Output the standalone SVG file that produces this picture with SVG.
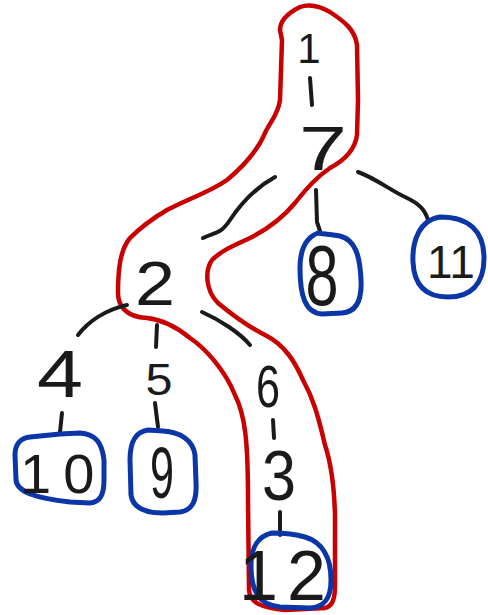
<svg xmlns="http://www.w3.org/2000/svg" width="488" height="615" viewBox="0 0 488 615">
<style>
.t{font-family:"Liberation Sans",Arial,sans-serif;fill:#1a1a1a;text-anchor:middle}
.c{fill:none;stroke:#1a1a1a;stroke-width:4;stroke-linecap:round;stroke-linejoin:round}
.b{fill:none;stroke:#0a36a8;stroke-width:5;stroke-linejoin:round}
.r{fill:none;stroke:#c80000;stroke-width:4.5;stroke-linejoin:round}
</style>
<rect width="488" height="615" fill="#fff"/>
<path class="r" d="M300,7 C290,12 280,20 280,30 L282,40 L280,100 C278,115 270,122 265,133 C258,150 245,165 227,180 C210,192 190,198 167,210 C150,220 138,230 130,238 C120,250 118,270 118,293 C118,305 125,317 147,318 C165,320 178,328 190,338 C205,348 225,370 235,395 C245,415 248,440 248,500 L249,590 C250,603 262,608 285,610 L325,608 C333,606 335,598 335,585 L335,515 C334,480 330,460 325,445 C318,415 313,398 303,380 C295,362 285,345 265,335 C245,325 230,313 218,303 C205,290 205,270 212,260 C222,250 235,245 250,238 C270,228 285,215 295,203 C305,190 315,178 330,168 C345,160 355,150 357,135 L358,100 L357,45 C355,30 345,22 330,12 C318,5 308,4 300,7 Z"/>
<g id="connectors">
<path class="c" d="M310,78 L312,105"/>
<path class="c" d="M275,177 C255,188 240,205 230,220 S215,232 203,238"/>
<path class="c" d="M316,190 L317,222 L320,231"/>
<path class="c" d="M358,172 C375,178 390,190 405,197 S425,210 428,220"/>
<path class="c" d="M127,305 C105,310 88,322 78,335"/>
<path class="c" d="M157,325 L156,347"/>
<path class="c" d="M202,312 C220,320 240,333 250,345"/>
<path class="c" d="M62,413 L60,432"/>
<path class="c" d="M155,403 L158,427"/>
<path class="c" d="M273,420 L274,438"/>
<path class="c" d="M280,512 L280,535"/>
</g>
<g id="n1"><text class="t" x="309" y="63" font-size="42">1</text></g>
<g id="n7"><text class="t" x="323" y="170" font-size="63" textLength="48" lengthAdjust="spacingAndGlyphs">7</text></g>
<g id="n2"><text class="t" x="155" y="305" font-size="63" textLength="40" lengthAdjust="spacingAndGlyphs">2</text></g>
<g id="n8"><path class="b" d="M318,233 C305,238 300,250 300,268 C300,295 305,313 322,314 L342,313 C356,312 362,300 361,280 C360,255 355,240 340,236 C330,234 322,234 318,233 Z"/><text class="t" x="322" y="305" font-size="85" textLength="33" lengthAdjust="spacingAndGlyphs">8</text></g>
<g id="n11"><path class="b" d="M440,217 C420,220 412,240 413,262 C414,285 425,297 448,297 C470,297 484,285 484,258 C484,232 470,217 440,217 Z"/><text class="t" x="451" y="278" font-size="46">11</text></g>
<g id="n4"><text class="t" x="60" y="397" font-size="66" textLength="46" lengthAdjust="spacingAndGlyphs">4</text></g>
<g id="n5"><text class="t" x="159" y="395" font-size="45" textLength="27" lengthAdjust="spacingAndGlyphs">5</text></g>
<g id="n6"><text class="t" x="268" y="407" font-size="59" textLength="24" lengthAdjust="spacingAndGlyphs">6</text></g>
<g id="n3"><text class="t" x="279" y="500" font-size="70" textLength="34" lengthAdjust="spacingAndGlyphs">3</text></g>
<g id="n10"><path class="b" d="M30,437 C20,438 15,445 15,455 L16,480 C17,492 35,498 70,502 L90,503 C100,502 104,495 104,480 L104,460 C102,442 95,434 80,433 L60,434 Z"/><text class="t" x="20" y="493" font-size="56" letter-spacing="12" style="text-anchor:start">10</text></g>
<g id="n9"><path class="b" d="M148,430 C135,432 130,442 130,460 L131,495 C133,508 145,513 163,513 L180,512 C193,510 197,500 196,482 L195,455 C193,440 180,432 163,431 Z"/><text class="t" x="162" y="498" font-size="72" textLength="24" lengthAdjust="spacingAndGlyphs">9</text></g>
<g id="n12"><path class="b" d="M272,533 C258,536 251,548 251,565 C251,590 258,605 280,607 L310,608 C325,607 331,598 331,580 C331,557 322,542 305,537 C295,534 284,533 272,533 Z"/><text class="t" x="239" y="600" font-size="70" letter-spacing="9" style="text-anchor:start">12</text></g>
</svg>
